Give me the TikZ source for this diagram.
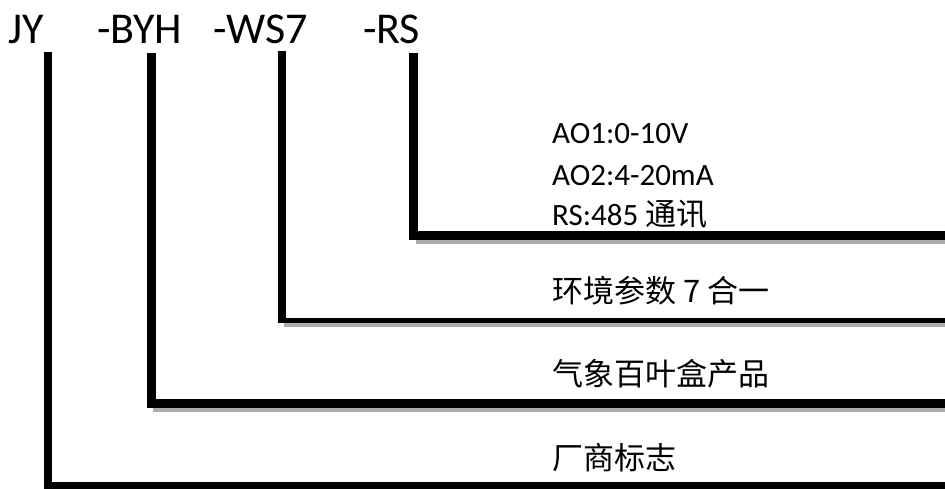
\documentclass[tikz,border=0pt]{standalone}
\usepackage{fontspec}
\setmainfont{Carlito}
\newfontfamily\cjk{Noto Sans CJK SC}
\begin{document}
\begin{tikzpicture}[x=1pt,y=-1pt,
  lead/.style={line width=#1, line join=miter, line cap=butt},
  shadowline/.style={line width=#1, draw=black!32, line cap=butt},
  code/.style={font=\fontsize{44}{44}\selectfont, anchor=base west, inner sep=0pt},
  desc/.style={font=\fontsize{31}{31}\selectfont, anchor=base west, inner sep=0pt}]
\fill[white] (0,0) rectangle (945,488);
\useasboundingbox (0,0) rectangle (945,488);

% code parts
\node[code] (cJY)  at (8,43)   {JY};
\node[code] (cBYH) at (97,43)  {-BYH};
\node[code] (cWS7) at (213,43) {-WS7};
\node[code] (cRS)  at (363,43) {-RS};

% leader tops and right ends
\coordinate (tJY)  at (48,52);
\coordinate (tBYH) at (151,53);
\coordinate (tWS7) at (282,51);
\coordinate (tRS)  at (413.5,53);
\coordinate (eJY)  at (945,486);
\coordinate (eBYH) at (945,403.5);
\coordinate (eWS7) at (945,320.5);
\coordinate (eRS)  at (945,235.5);

% shadows
\draw[shadowline=9] ([xshift=2pt,yshift=-4pt]tRS |- eRS) -- ([yshift=-4pt]eRS);
\draw[shadowline=5] ([xshift=2pt,yshift=-4pt]tWS7 |- eWS7) -- ([yshift=-4pt]eWS7);
\draw[shadowline=9] ([xshift=2pt,yshift=-4pt]tBYH |- eBYH) -- ([yshift=-4pt]eBYH);

% leaders
\draw[lead=9] (tRS) |- (eRS);
\draw[lead=8] (tWS7) -- (tWS7 |- eWS7);
\draw[lead=5] ([xshift=-4pt]tWS7 |- eWS7) -- (eWS7);
\draw[lead=9] (tBYH) |- (eBYH);
\draw[lead=8] (tJY) |- (eJY);

% descriptions
\node[desc] (dAO1) at (552,143) {AO1:0-10V};
\node[desc] (dAO2) at (552,185) {AO2:4-20mA};
\node[desc] (dRS)  at (552,225) {RS:485 {\cjk 通讯}};
\node[desc] (dWS7) at (552,302) {\cjk 环境参数 7 合一};
\node[desc] (dBYH) at (552,385) {\cjk 气象百叶盒产品};
\node[desc] (dJY)  at (552,469) {\cjk 厂商标志};
\end{tikzpicture}
\end{document}
